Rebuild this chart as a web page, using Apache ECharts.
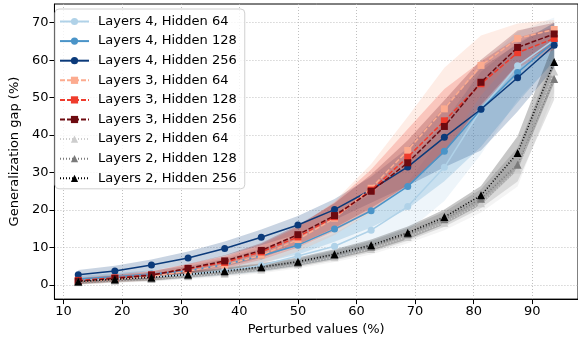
<!DOCTYPE html>
<html><head><meta charset="utf-8">
<script src="https://cdn.jsdelivr.net/npm/echarts@6/dist/echarts.min.js"></script>
<style>html,body{margin:0;padding:0;background:#fff}#c{width:578px;height:341px}</style>
</head><body><div id="c"></div>
<script>
const perturbed = [12.5,18.75,25,31.25,37.5,43.75,50,56.25,62.5,68.75,75,81.25,87.5,93.75];
const xTicks = [10,20,30,40,50,60,70,80,90];
const yTicks = [0,10,20,30,40,50,60,70];
const seriesNames = ['Layers 4, Hidden 64','Layers 4, Hidden 128','Layers 4, Hidden 256','Layers 3, Hidden 64','Layers 3, Hidden 128','Layers 3, Hidden 256','Layers 2, Hidden 64','Layers 2, Hidden 128','Layers 2, Hidden 256'];
const l4h64  = [1.2,1.6,2.1,2.8,3.8,5.2,7.7,10.3,14.6,20.9,31.4,46.9,58.5,65.4];
const l4h128 = [1.6,2.2,2.9,3.8,5.4,7.8,10.6,14.9,19.8,26.3,35.7,46.9,56.7,64.9];
const l4h256 = [2.7,3.7,5.3,7.2,9.7,12.7,16.0,20.1,25.4,31.5,39.4,46.9,55.3,64.0];
const l3h64  = [0.9,1.5,2.2,3.7,5.3,7.9,12.1,17.8,25.8,35.9,47.0,58.6,65.8,68.2];
const l3h128 = [1.2,1.9,2.7,4.3,6.0,8.8,12.8,18.2,25.3,34.1,43.8,53.7,62.0,65.8];
const l3h256 = [1.0,1.7,2.6,4.4,6.4,9.2,13.4,18.5,25.0,32.6,42.3,54.1,63.4,67.0];
const l2h64  = [0.7,1.1,1.6,2.3,3.0,4.1,5.5,7.4,9.6,12.8,16.6,21.8,30.8,57.0];
const l2h128 = [0.8,1.3,1.8,2.6,3.4,4.5,5.9,7.9,10.2,13.5,17.5,23.0,32.1,55.0];
const l2h256 = [0.9,1.5,2.0,2.8,3.7,4.8,6.2,8.2,10.6,13.9,18.1,23.9,35.2,59.5];
// spread (std) of each run
const sdL4h64  = [0.6,0.7,0.8,1.0,1.3,1.8,2.5,3.4,4.8,6.5,9,12,9,6];
const sdL4h128 = [0.8,0.9,1.0,1.2,1.5,1.9,2.5,3.4,4.5,6,8,10,8,5];
const sdL4h256 = [1.3,1.4,1.5,1.7,1.9,2.1,2.4,2.8,3.5,5,8,11,9,6];
const sdL3h64  = [0.8,0.9,1.1,1.4,1.8,2.4,3.2,4.5,6.5,9,11,8,4,2.5];
const sdL3h128 = [0.7,0.8,1.0,1.3,1.6,2.1,2.8,3.8,5.5,7.5,8.5,6,4,3];
const sdL3h256 = [0.7,0.8,1.0,1.2,1.5,2.0,2.6,3.3,4.5,6,7,6,4.5,3];
const sdL2h64  = [0.6,0.6,0.7,0.8,0.9,1.0,1.1,1.3,1.5,1.7,2.0,2.5,4.5,5.5];
const sdL2h128 = [0.7,0.7,0.8,0.8,0.9,1.0,1.1,1.3,1.5,1.7,2.0,2.5,4.5,5.5];
const sdL2h256 = [0.7,0.7,0.8,0.8,0.9,1.0,1.1,1.3,1.5,1.7,2.0,2.5,4.5,5.5];

const means = [l4h64,l4h128,l4h256,l3h64,l3h128,l3h256,l2h64,l2h128,l2h256];
const sds = [sdL4h64,sdL4h128,sdL4h256,sdL3h64,sdL3h128,sdL3h256,sdL2h64,sdL2h128,sdL2h256];
const colors = ['#b0d2e8','#4a94c8','#0b3a7a','#fcab8f','#ef3b2c','#6d0a10','#cdcdcd','#7a7a7a','#000000'];
const lineTypes = ['solid','solid','solid',[5,2],[5,2],[5,2],[1,2],[1,2],[1,2]];
const symbols = ['circle','circle','circle','rect','rect','rect','triangle','triangle','triangle'];
const symbolSizes = [7,7,7,7,7,7,8,8,8];

const FONT = 'DejaVu Sans';
const series = [];
means.forEach((m, i) => {
  const sd = sds[i];
  const rows = perturbed.map((x, j) => [x, m[j] - sd[j], m[j] + sd[j]]);
  series.push({
    name: seriesNames[i] + ' band', type: 'custom', coordinateSystem: 'cartesian2d', silent: true, z: 1,
    encode: {x: 0, y: [1, 2]},
    data: rows,
    renderItem: function (params, api) {
      if (params.dataIndex !== 0) return null;
      const pts = [];
      for (let j = 0; j < rows.length; j++) pts.push(api.coord([rows[j][0], rows[j][2]]));
      for (let j = rows.length - 1; j >= 0; j--) pts.push(api.coord([rows[j][0], rows[j][1]]));
      return {type: 'polygon', shape: {points: pts}, style: {fill: colors[i], opacity: 0.22}};
    }
  });
});
means.forEach((m, i) => {
  series.push({
    name: seriesNames[i], type: 'line', z: 2 + i * 0.01,
    symbol: symbols[i], symbolSize: symbolSizes[i],
    itemStyle: {color: colors[i]},
    lineStyle: {color: colors[i], width: 1.5, type: lineTypes[i]},
    data: perturbed.map((x, j) => [x, m[j]])
  });
});

const chart = echarts.init(document.getElementById('c'), null, {renderer: 'canvas'});
chart.setOption({
  animation: false,
  backgroundColor: '#fff',
  grid: {left: 47, top: 4, right: -5.5, bottom: 41, show: true, borderColor: '#000', borderWidth: 1, backgroundColor: 'transparent'},
  legend: {
    data: seriesNames, orient: 'vertical', left: 55, top: 9,
    itemWidth: 29, itemHeight: 9, itemGap: 6.6,
    padding: [6, 8, 4, 4],
    backgroundColor: 'rgba(255,255,255,0.8)', borderColor: '#d0d0d0', borderWidth: 1, borderRadius: 4,
    textStyle: {fontFamily: FONT, fontSize: 13, lineHeight: 13, color: '#000', padding: [0, 0, 0, 4]}
  },
  xAxis: {
    type: 'value', min: 8.4375, max: 97.8125, splitNumber: 9,
    name: 'Perturbed values (%)', nameLocation: 'middle', nameGap: 20,
    nameTextStyle: {fontFamily: FONT, fontSize: 13, color: '#000'},
    axisLine: {onZero: false, lineStyle: {color: '#000', width: 1}},
    axisTick: {show: true, length: 5, lineStyle: {color: '#000'}, customValues: xTicks},
    axisLabel: {fontFamily: FONT, fontSize: 13, color: '#000', margin: 6, customValues: xTicks},
    splitLine: {show: true, lineStyle: {color: '#b0b0b0', type: [1, 2], width: 0.8}}
  },
  yAxis: {
    type: 'value', min: -3.8, max: 75, splitNumber: 8,
    name: 'Generalization gap (%)', nameLocation: 'middle', nameGap: 26,
    nameTextStyle: {fontFamily: FONT, fontSize: 13, color: '#000'},
    axisLine: {show: true, onZero: false, lineStyle: {color: '#000', width: 1}},
    axisTick: {show: true, length: 5, lineStyle: {color: '#000'}, customValues: yTicks},
    axisLabel: {fontFamily: FONT, fontSize: 13, color: '#000', margin: 6, customValues: yTicks},
    splitLine: {show: true, lineStyle: {color: '#b0b0b0', type: [1, 2], width: 0.8}}
  },
  series: series
});
</script></body></html>
